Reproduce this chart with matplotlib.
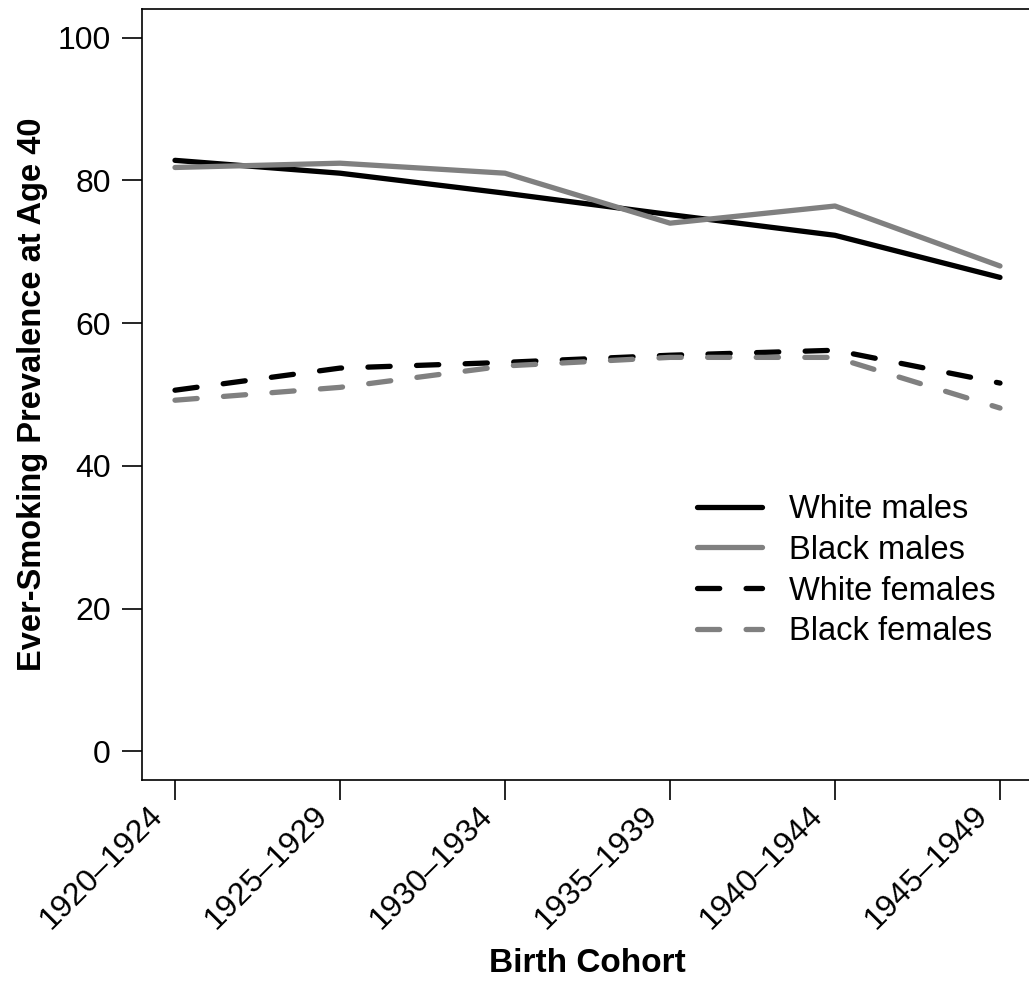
import matplotlib
matplotlib.use("Agg")
import matplotlib.pyplot as plt
from matplotlib.transforms import ScaledTranslation

plt.rcParams["font.family"] = ["Liberation Sans", "DejaVu Sans"]
plt.rcParams["lines.scale_dashes"] = False

cohorts = ["1920\u20131924", "1925\u20131929", "1930\u20131934",
           "1935\u20131939", "1940\u20131944", "1945\u20131949"]
white_males = [82.8, 81.0, 78.2, 75.2, 72.3, 66.4]
black_males = [81.8, 82.4, 81.0, 74.0, 76.4, 68.0]
white_females = [50.6, 53.7, 54.5, 55.5, 56.2, 51.6]
black_females = [49.2, 51.0, 54.0, 55.2, 55.2, 48.1]
y_ticks = [0, 20, 40, 60, 80, 100]

W, H = 1029, 982
fig = plt.figure(figsize=(W / 100, H / 100), dpi=100)
ax = fig.add_axes([142 / W, 1 - 780 / H, (1033 - 142) / W, (780 - 9) / H])

x = list(range(1, len(cohorts) + 1))
lw = 3.8
dash = (16, 19)
ax.plot(x, white_males, color="black", lw=lw, solid_capstyle="round", label="White males")
ax.plot(x, black_males, color="#808080", lw=lw, solid_capstyle="round", label="Black males")
ax.plot(x, white_females, color="black", lw=lw, dashes=dash, dash_capstyle="round",
        label="White females")
ax.plot(x, black_females, color="#808080", lw=lw, dashes=dash, dash_capstyle="round",
        label="Black females")

ax.set_xlim(0.8, 6.2)
ax.set_ylim(-4, 104)
ax.set_yticks(y_ticks)
ax.set_xticks(x)
ax.set_xticklabels(cohorts, rotation=45, ha="right", va="center", rotation_mode="anchor")
ax.tick_params(axis="both", length=14.5, width=1.2, labelsize=23, pad=8)
ax.tick_params(axis="x", pad=8)
shift = ScaledTranslation(-17 / 100, 0, fig.dpi_scale_trans)
for lab in ax.get_xticklabels():
    lab.set_transform(lab.get_transform() + shift)
for s in ax.spines.values():
    s.set_linewidth(1.2)

ax.set_ylabel("Ever-Smoking Prevalence at Age 40", fontsize=23.5, fontweight="bold")
ax.yaxis.set_label_coords((48 - 142) / 891, 0.5)
ax.set_xlabel("Birth Cohort", fontsize=24, fontweight="bold")
ax.xaxis.set_label_coords(0.5, (780 - 948) / 771)

ax.legend(loc="upper left", bbox_to_anchor=(697 / W, 1 - 494 / H),
          bbox_transform=fig.transFigure, frameon=False, fontsize=23.5,
          handlelength=2.0, handletextpad=0.82, labelspacing=0.3, borderpad=0,
          borderaxespad=0)

fig.savefig("out.png", dpi=100)
